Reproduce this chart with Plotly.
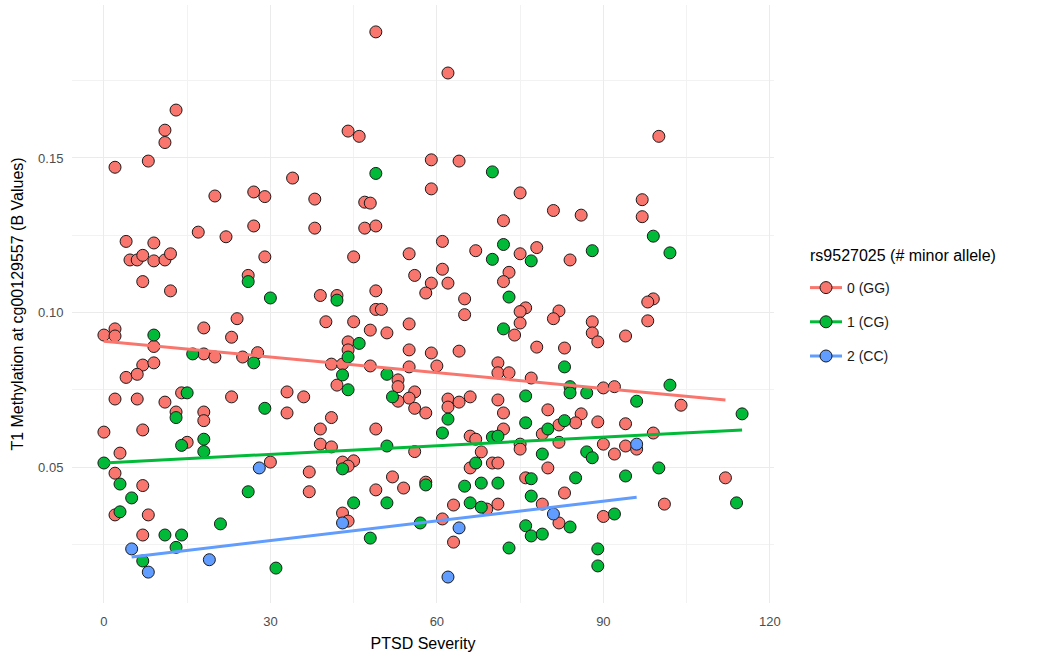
import numpy as np
import plotly.graph_objects as go

# Genotype 0 (GG)
gg_x = [13, 11, 11, 8, 2, 20, 27,
        49, 44, 46, 34, 38, 29, 47, 48, 59, 59,
        62, 64, 75, 81, 86,
        100, 97,
        4, 9, 4.7, 6, 7, 9, 11, 12, 7, 12, 17, 22, 27, 26, 0, 2, 2, 9, 7, 9, 4, 6, 18, 23, 24, 18, 20, 25, 27.7, 2, 6, 11, 14, 23,
        0, 2, 2.9, 7, 2, 8, 7, 7, 13, 18, 18, 15,
        38, 47, 49, 29, 45, 55, 56, 59, 58, 49, 39, 42, 49, 50, 40, 45, 48, 51, 55, 44, 44, 41, 43, 48, 55, 59, 55, 53, 53, 42, 33, 36, 56, 55, 53,
        33, 41, 39, 49, 39, 41, 56, 30, 43, 45, 44, 37, 52, 37, 49, 54, 58, 43, 44, 56, 58,
        72, 61, 67, 75, 78, 84, 61, 73, 72, 62, 65, 65, 76, 75, 82, 81, 75, 74, 88, 88, 89, 64, 78, 83, 60, 71, 71, 73, 77, 90, 62, 64, 66, 71,
        62, 72, 80, 86, 85, 82, 89, 72, 79, 66, 67, 75, 75, 82, 68, 90, 70, 71, 66, 80, 76, 83, 63, 69, 71, 79, 82, 61, 63, 90,
        97, 99, 98, 98, 94, 92, 104,
        94, 99, 92, 94, 96, 112, 101]
gg_y = [0.1655, 0.159, 0.155, 0.149, 0.147, 0.1377, 0.139,
        0.1908, 0.1587, 0.157, 0.1435, 0.1367, 0.1375, 0.1357, 0.1354, 0.1494, 0.140,
        0.1775, 0.149, 0.1387, 0.133, 0.1315,
        0.157, 0.1365,
        0.123, 0.1225, 0.117, 0.117, 0.1185, 0.1167, 0.117, 0.119, 0.110, 0.107, 0.126, 0.1245, 0.128, 0.112, 0.0927, 0.0947, 0.0924, 0.089, 0.083, 0.0837, 0.079, 0.080, 0.095, 0.092, 0.098, 0.0866, 0.0856, 0.0856, 0.087, 0.072, 0.072, 0.071, 0.074, 0.0727,
        0.0613, 0.048, 0.0545, 0.044, 0.0345, 0.0345, 0.028, 0.062, 0.0678, 0.0678, 0.065, 0.058,
        0.1273, 0.1273, 0.128, 0.118, 0.118, 0.119, 0.112, 0.1095, 0.1063, 0.107, 0.1055, 0.1055, 0.101, 0.101, 0.097, 0.097, 0.0943, 0.0934, 0.0963, 0.0905, 0.0879, 0.0833, 0.0833, 0.0827, 0.0879, 0.0869, 0.0824, 0.0782, 0.076, 0.0765, 0.0743, 0.0727, 0.0743, 0.0723, 0.0713,
        0.0675, 0.066, 0.0623, 0.0623, 0.0574, 0.0565, 0.055, 0.0516, 0.0516, 0.052, 0.0503, 0.0484, 0.0468, 0.042, 0.0426, 0.0432, 0.0451, 0.0351, 0.0325, 0.069, 0.0675,
        0.1297, 0.123, 0.120, 0.119, 0.121, 0.117, 0.114, 0.113, 0.110, 0.1095, 0.1044, 0.0993, 0.1015, 0.1003, 0.1005, 0.098, 0.0966, 0.0927, 0.097, 0.0934, 0.0905, 0.0875, 0.0888, 0.0885, 0.0827, 0.0837, 0.0805, 0.0805, 0.0788, 0.0756, 0.072, 0.071, 0.0727, 0.0717,
        0.0694, 0.0675, 0.0685, 0.0672, 0.0643, 0.0636, 0.0646, 0.0623, 0.0607, 0.060, 0.059, 0.0574, 0.0558, 0.058, 0.0549, 0.0574, 0.0513, 0.0513, 0.0497, 0.0497, 0.0465, 0.0416, 0.0377, 0.0364, 0.038, 0.038, 0.0319, 0.0332, 0.0257, 0.034,
        0.131, 0.1044, 0.1034, 0.0973, 0.0924, 0.076, 0.070,
        0.064, 0.061, 0.0542, 0.0568, 0.0558, 0.0465, 0.038]

# Genotype 1 (CG)
cg_x = [0, 2.9, 5, 2.9, 11, 14, 13, 7, 21, 26, 13, 14, 18, 18, 26, 9, 16, 27, 15,
        49, 70,
        30, 42, 46, 44, 43, 51, 44, 52, 29,
        51, 43, 58, 45, 51, 57, 48, 31,
        72, 70, 77, 88, 73, 72, 83, 84, 84, 87, 76,
        62, 76, 83, 61, 80, 70, 71, 79, 87, 88, 67, 77, 85, 65, 68, 71, 77, 66, 68, 84, 76, 77, 79, 73, 89, 89,
        99, 102, 102, 96,
        115, 100, 94, 114, 92]
cg_y = [0.0513, 0.0445, 0.040, 0.0355, 0.028, 0.028, 0.024, 0.0196, 0.0316, 0.042, 0.066, 0.057, 0.059, 0.055, 0.110, 0.0927, 0.0866, 0.0837, 0.074,
        0.145, 0.1455,
        0.1047, 0.104, 0.090, 0.0856, 0.0798, 0.080, 0.075, 0.0727, 0.069,
        0.0568, 0.0494, 0.0442, 0.0384, 0.0384, 0.0319, 0.027, 0.0173,
        0.122, 0.1172, 0.1167, 0.120, 0.105, 0.0947, 0.0824, 0.076, 0.074, 0.074, 0.073,
        0.0655, 0.0643, 0.065, 0.061, 0.0623, 0.0597, 0.060, 0.0542, 0.0549, 0.053, 0.0513, 0.0462, 0.0465, 0.0438, 0.0448, 0.0448, 0.0406, 0.0384, 0.037, 0.0306, 0.031, 0.0277, 0.0283, 0.0238, 0.0235, 0.018,
        0.1247, 0.1193, 0.0765, 0.0713,
        0.0672, 0.0497, 0.0471, 0.0384, 0.0348]

# Genotype 2 (CC)
cc_x = [5, 8, 19, 28, 43, 62, 64, 81, 96]
cc_y = [0.0235, 0.016, 0.020, 0.0497, 0.0319, 0.0144, 0.0303, 0.0348, 0.0574]

# Linear trend lines as drawn in the reference (start/end)
trend_x = {"0 (GG)": [0, 112], "1 (CG)": [0, 115], "2 (CC)": [5, 96]}
trend_y = {"0 (GG)": [0.0907, 0.0717], "1 (CG)": [0.0513, 0.0620], "2 (CC)": [0.0209, 0.0402]}

groups = [
    ("0 (GG)", gg_x, gg_y, "#F8766D"),
    ("1 (CG)", cg_x, cg_y, "#00BA38"),
    ("2 (CC)", cc_x, cc_y, "#619CFF"),
]

fig = go.Figure()
for name, xs, ys, col in groups:
    fig.add_trace(go.Scatter(
        x=xs, y=ys, mode="markers", showlegend=False, hoverinfo="skip",
        marker=dict(size=12, color=col, line=dict(color="#1a1a1a", width=1)),
    ))

for name, xs, ys, col in groups:
    fig.add_trace(go.Scatter(
        x=trend_x[name], y=trend_y[name], mode="lines", showlegend=False, hoverinfo="skip",
        line=dict(color=col, width=3),
    ))

for i, (name, xs, ys, col) in enumerate(groups):
    fig.add_trace(go.Scatter(
        x=[None], y=[None], mode="lines+markers", name=name, legendgroup=str(i),
        marker=dict(size=12, color=col, line=dict(color="#1a1a1a", width=1)),
        line=dict(color=col, width=3),
    ))

# paper: panel spans x 72..774 px, y 5..603 px
fig.add_annotation(
    text="rs9527025 (# minor allele)", xref="paper", yref="paper",
    x=(808 - 72) / 702, y=(603 - 255) / 598, xanchor="left", yanchor="middle",
    showarrow=False, font=dict(size=16, color="black"),
)

fig.update_layout(
    width=1050, height=660,
    paper_bgcolor="white", plot_bgcolor="white",
    margin=dict(l=72, r=276, t=5, b=57, autoexpand=False),
    font=dict(family="Liberation Sans, Arial, sans-serif", color="black"),
    legend=dict(
        font=dict(size=14, color="#1a1a1a"),
        x=(805 - 72) / 702, xanchor="left", y=(603 - 322) / 598, yanchor="middle",
        tracegroupgap=13, bgcolor="rgba(0,0,0,0)", itemwidth=32,
    ),
    xaxis=dict(
        range=[-5.75, 120.75], tickvals=[0, 30, 60, 90, 120],
        showgrid=True, gridcolor="#ebebeb", gridwidth=1.2, zeroline=False,
        showline=False, ticks="outside", ticklen=6, tickcolor="rgba(0,0,0,0)",
        tickfont=dict(size=13, color="#4d4d4d"),
        title=dict(text="PTSD Severity", font=dict(size=16, color="black"), standoff=10),
        minor=dict(tickvals=[15, 45, 75, 105], showgrid=True, gridcolor="#f2f2f2", gridwidth=0.8),
        automargin=False,
    ),
    yaxis=dict(
        range=[0.006, 0.1995], tickvals=[0.05, 0.10, 0.15], ticktext=["0.05", "0.10", "0.15"],
        showgrid=True, gridcolor="#ebebeb", gridwidth=1.2, zeroline=False,
        showline=False, ticks="outside", ticklen=5, tickcolor="rgba(0,0,0,0)",
        tickfont=dict(size=13, color="#4d4d4d"),
        title=dict(text="T1 Methylation at cg00129557 (B Values)", font=dict(size=16, color="black"), standoff=10),
        minor=dict(tickvals=[0.025, 0.075, 0.125, 0.175], showgrid=True, gridcolor="#f2f2f2", gridwidth=0.8),
        automargin=False,
    ),
)

fig.write_html("out.html", config={"displayModeBar": False},
               post_script="document.body.style.margin='0px';")
